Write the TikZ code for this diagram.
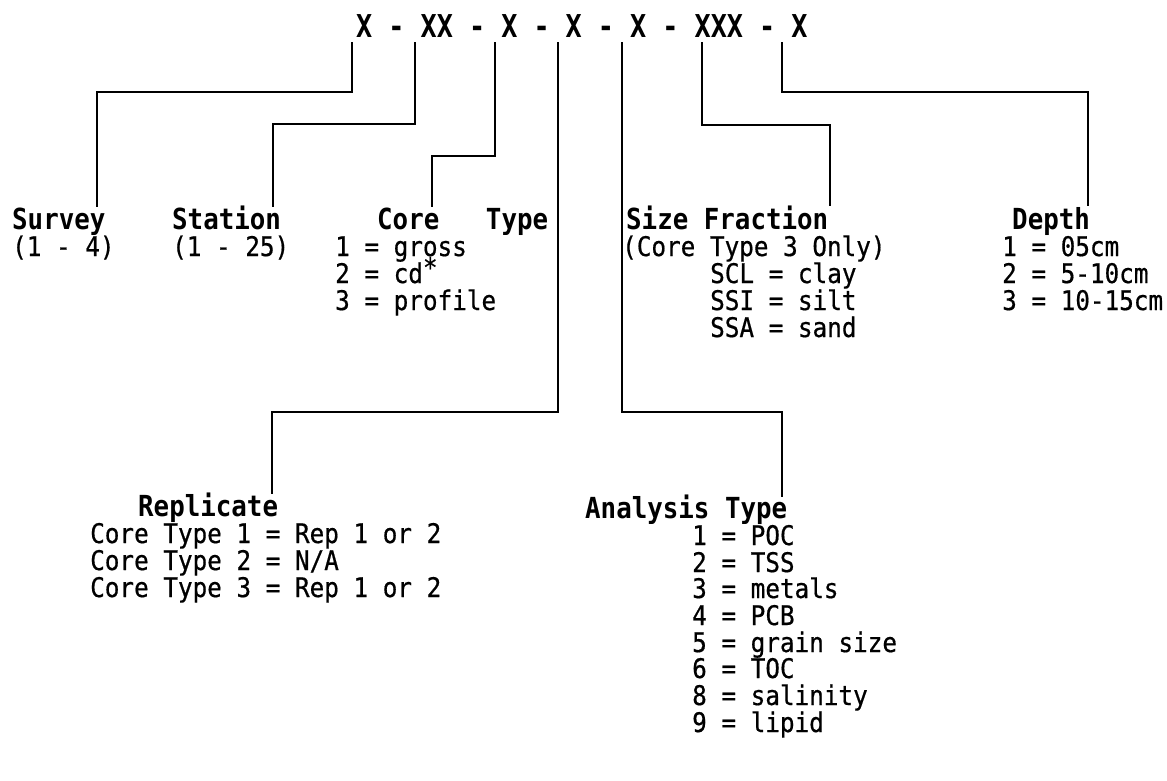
\documentclass[tikz,border=0pt]{standalone}
\usepackage{fontspec}
\newfontfamily\bodyf[FakeStretch=0.9,FakeBold=0.6]{DejaVu Sans Mono}
\newfontfamily\headf[FakeStretch=0.89]{DejaVu Sans Mono}
\newfontfamily\topf[FakeStretch=0.85]{DejaVu Sans Mono}
\tikzset{
  body/.style={inner sep=0pt, anchor=base west, font=\bodyf\fontsize{27}{27}\selectfont},
  head/.style={inner sep=0pt, anchor=base west, font=\headf\bfseries\fontsize{29}{29}\selectfont},
  topc/.style={inner sep=0pt, anchor=base west, font=\topf\bfseries\fontsize{31.5}{31.5}\selectfont},
  conn/.style={line width=2.6pt, line join=miter}
}
\begin{document}
\begin{tikzpicture}[x=1pt,y=-1pt]
\useasboundingbox (0,0) rectangle (1167,780);
% code line
\node[topc] (code) at (356,37) {X - XX - X - X - X - XXX - X};
% headers and values
\node[head] (sv) at (12,229) {Survey};
\node[body] (sv1) at (12,256) {(1 - 4)};
\node[head] (st) at (172,229) {Station};
\node[body] (st1) at (172,256) {(1 - 25)};
\node[head] (ct) at (377,229) {Core\ \ \ Type};
\node[body] (ct1) at (335,256) {1 = gross};
\node[body] (ct2) at (335,283) {2 = cd\raisebox{6pt}{*}};
\node[body] (ct3) at (335,310) {3 = profile};
\node[head] (sf) at (626,229) {Size Fraction};
\node[body] (sf1) at (622,256) {(Core Type 3 Only)};
\node[body] (sf2) at (710,283) {SCL = clay};
\node[body] (sf3) at (710,310) {SSI = silt};
\node[body] (sf4) at (710,337) {SSA = sand};
\node[head] (dp) at (1012,229) {Depth};
\node[body] (dp1) at (1002,256) {1 = 05cm};
\node[body] (dp2) at (1002,283) {2 = 5-10cm};
\node[body] (dp3) at (1002,310) {3 = 10-15cm};
\node[head] (rp) at (138,516) {Replicate};
\node[body] (rp1) at (90,543) {Core Type 1 = Rep 1 or 2};
\node[body] (rp2) at (90,570) {Core Type 2 = N/A};
\node[body] (rp3) at (90,597) {Core Type 3 = Rep 1 or 2};
\node[head] (an) at (585,518) {Analysis Type};
\node[body] (an1) at (692,545) {1 = POC};
\node[body] (an2) at (692,572) {2 = TSS};
\node[body] (an3) at (692,598) {3 = metals};
\node[body] (an4) at (692,625) {4 = PCB};
\node[body] (an5) at (692,652) {5 = grain size};
\node[body] (an6) at (692,678) {6 = TOC};
\node[body] (an7) at (692,705) {8 = salinity};
\node[body] (an8) at (692,732) {9 = lipid};
% connector ends
\coordinate (t1) at (352,42);
\coordinate (t2) at (415,42);
\coordinate (t3) at (495,42);
\coordinate (t4) at (558,42);
\coordinate (t5) at (622,42);
\coordinate (t6) at (702,42);
\coordinate (t7) at (782,42);
\coordinate (e1) at (97,207);
\coordinate (e2) at (273,207);
\coordinate (e3) at (432,207);
\coordinate (e4) at (272,494);
\coordinate (e5) at (782,497);
\coordinate (e6) at (830,206);
\coordinate (e7) at (1088,206);
\draw[conn] (t1) -- ++(0,50) -| (e1);
\draw[conn] (t2) -- ++(0,82) -| (e2);
\draw[conn] (t3) -- ++(0,114) -| (e3);
\draw[conn] (t4) -- ++(0,370) -| (e4);
\draw[conn] (t5) -- ++(0,370) -| (e5);
\draw[conn] (t6) -- ++(0,83) -| (e6);
\draw[conn] (t7) -- ++(0,50) -| (e7);
\end{tikzpicture}
\end{document}
